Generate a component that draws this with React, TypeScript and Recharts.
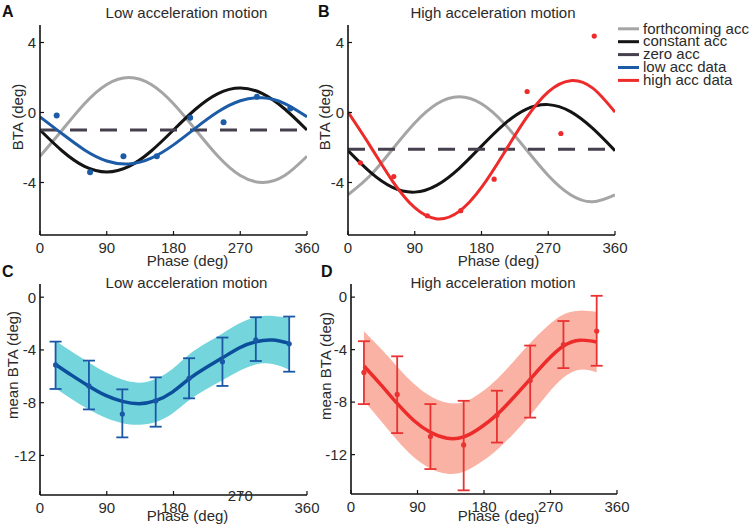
import React from 'react';
import { ComposedChart, Line, Area, XAxis, YAxis, ErrorBar } from 'recharts';

const FONT = '"Liberation Sans", Arial, sans-serif';

const phaseTicks = [0, 90, 180, 270, 360];
const curvePhase = [0, 30, 60, 90, 120, 150, 180, 210, 240, 270, 300, 330, 360];
const zeroPhase = [0, 360];

// panel A - low acceleration
const aForthcoming = [-2.5, -1.0, 0.5, 1.6, 2.0, 1.6, 0.5, -1.0, -2.5, -3.6, -4.0, -3.6, -2.5];
const aConstant = [-1.0, -2.2, -3.08, -3.4, -3.08, -2.2, -1.0, 0.2, 1.08, 1.4, 1.08, 0.2, -1.0];
const aLowFit = [-0.25, -1.22, -2.14, -2.77, -2.94, -2.61, -1.85, -0.88, 0.04, 0.67, 0.84, 0.51, -0.25];
const aZero = [-1, -1];
const aDataPhase = [22.5, 67.5, 112.5, 157.5, 202.5, 247.5, 292.5, 337.5];
const aData = [-0.17, -3.41, -2.5, -2.5, -0.3, -0.55, 0.9, 0.23];

// panel B - high acceleration
const bForthcoming = [-4.7, -3.6, -2.1, -0.6, 0.5, 0.9, 0.5, -0.6, -2.1, -3.6, -4.7, -5.1, -4.7];
const bConstant = [-2.18, -3.41, -4.28, -4.55, -4.15, -3.19, -1.92, -0.69, 0.18, 0.45, 0.05, -0.91, -2.18];
const bHighFit = [0.02, -1.92, -3.92, -5.44, -6.08, -5.65, -4.28, -2.34, -0.34, 1.18, 1.82, 1.39, 0.02];
const bZero = [-2.1, -2.1];
const bDataPhase = [16.7, 61.7, 107, 152, 197, 241.5, 287, 332];
const bData = [-2.87, -3.66, -5.9, -5.61, -3.81, 1.2, -1.2, 4.37];

// panel C - mean BTA, low acceleration
const cFitPhase = [21, 43.5, 66, 88.5, 111, 133.5, 156, 178.5, 201, 223.5, 246, 268.5, 291, 313.5, 336];
const cFit = [-5.1, -5.95, -6.75, -7.45, -7.9, -8.08, -7.85, -7.2, -6.2, -5.35, -4.6, -3.85, -3.38, -3.25, -3.5];
const cBandHigh = [-3.3, -4.15, -4.95, -5.7, -6.25, -6.48, -6.2, -5.45, -4.35, -3.5, -2.75, -2.0, -1.53, -1.42, -1.55];
const cBandLow = [-6.9, -7.75, -8.52, -9.15, -9.55, -9.68, -9.47, -8.82, -7.82, -7.0, -6.3, -5.6, -5.1, -5.07, -5.5];
const cPointPhase = [21, 66, 111, 156, 201, 246, 291, 336];
const cMean = [-5.14, -6.73, -8.86, -7.87, -6.15, -4.89, -3.24, -3.54];
const cTop = [-3.37, -4.81, -6.99, -6.08, -4.63, -3.06, -1.52, -1.47];
const cBottom = [-6.96, -8.51, -10.63, -9.82, -7.67, -6.73, -4.84, -5.65];

// panel D - mean BTA, high acceleration
const dFitPhase = [17.5, 40, 62.5, 85, 107.5, 130, 152.5, 175, 197.5, 220, 242.5, 265, 287.5, 310, 332.5];
const dFit = [-5.25, -6.65, -8.1, -9.4, -10.3, -10.75, -10.65, -9.95, -8.95, -7.65, -6.25, -4.85, -3.72, -3.28, -3.42];
const dBandHigh = [-2.6, -3.9, -5.3, -6.6, -7.55, -8.05, -8.0, -7.3, -6.25, -4.9, -3.5, -2.25, -1.32, -1.03, -1.12];
const dBandLow = [-7.9, -9.4, -10.9, -12.2, -13.05, -13.45, -13.3, -12.6, -11.65, -10.4, -9.0, -7.45, -6.12, -5.53, -5.72];
const dPointPhase = [17.5, 62.5, 107.5, 152.5, 197.5, 242.5, 287.5, 332.5];
const dMean = [-5.74, -7.41, -10.62, -11.26, -9.0, -6.36, -3.62, -2.59];
const dTop = [-3.36, -4.51, -8.15, -7.9, -7.13, -3.69, -1.82, 0.1];
const dBottom = [-8.15, -10.36, -13.1, -14.72, -11.08, -9.18, -5.41, -5.23];

const legendItems = [
  { name: 'forthcoming acc', color: '#a5a5a5' },
  { name: 'constant acc', color: '#141414' },
  { name: 'zero acc', color: '#463f4e' },
  { name: 'low acc data', color: '#1c5ca6' },
  { name: 'high acc data', color: '#ee2b2b' },
];

const axisLine = { stroke: '#111', strokeWidth: 1.6 };
const tickLine = { stroke: '#111', strokeWidth: 1.2 };
const tickFont = { fontSize: 15, fill: '#2b2b2b' };

const xy = (xs: number[], ys: number[]) => xs.map((x, i) => ({ x, y: ys[i] }));

// panel C has its "270" label lifted above the x label, as in the figure
const liftedTick = (props: any) => {
  const { x, y, payload } = props;
  const lift = payload.value === 270 ? -12 : 0;
  return (
    <text x={x} y={y + lift} dy="0.71em" textAnchor="middle" fontSize={15} fill="#2b2b2b">
      {payload.value}
    </text>
  );
};

function TopPanel({ left, forth, cons, zero, fit, fitColor, dx, dy, dotR }: any) {
  const rows = curvePhase.map((x, i) => ({ x, forth: forth[i], cons: cons[i], fit: fit[i] }));
  return (
    <div style={{ position: 'absolute', left, top: 0 }}>
      <ComposedChart width={376} height={270} data={rows} margin={{ top: 25, right: 69, bottom: 0, left: 0 }}>
        <XAxis type="number" dataKey="x" domain={[0, 360]} ticks={phaseTicks} interval={0} height={35}
          tickSize={-4} tickMargin={11} tick={tickFont} axisLine={axisLine} tickLine={tickLine} allowDataOverflow />
        <YAxis type="number" domain={[-7, 5]} ticks={[-4, 0, 4]} interval={0} width={40}
          tickSize={-4} tickMargin={8} tick={tickFont} axisLine={axisLine} tickLine={tickLine} allowDataOverflow />
        <Line dataKey="forth" type="natural" stroke="#a5a5a5" strokeWidth={3} dot={false} isAnimationActive={false} />
        <Line dataKey="cons" type="natural" stroke="#141414" strokeWidth={3} dot={false} isAnimationActive={false} />
        <Line data={xy(zeroPhase, zero)} dataKey="y" stroke="#463f4e" strokeWidth={3} strokeDasharray="17 13"
          dot={false} isAnimationActive={false} />
        <Line dataKey="fit" type="natural" stroke={fitColor} strokeWidth={3} dot={false} isAnimationActive={false} />
        <Line data={xy(dx, dy)} dataKey="y" stroke="none" strokeWidth={0}
          dot={{ r: dotR, fill: fitColor, stroke: 'none' }} isAnimationActive={false} />
      </ComposedChart>
    </div>
  );
}

function BottomPanel({ left, plotRight, phase, fit, lo, hi, px, mean, top, bottom, bandColor, lineColor, barColor, xHeight, xTick }: any) {
  const rows = phase.map((x: number, i: number) => ({ x, fit: fit[i], band: [lo[i], hi[i]] }));
  const pts = px.map((x: number, i: number) => ({ x, y: mean[i], err: [mean[i] - bottom[i], top[i] - mean[i]] }));
  return (
    <div style={{ position: 'absolute', left, top: 270 }}>
      <ComposedChart width={376} height={257} data={rows} margin={{ top: 14, right: plotRight, bottom: 0, left: 0 }}>
        <XAxis type="number" dataKey="x" domain={[0, 360]} ticks={phaseTicks} interval={0} height={xHeight}
          tickSize={-4} tickMargin={11} tick={xTick} axisLine={axisLine} tickLine={tickLine} allowDataOverflow />
        <YAxis type="number" domain={[-15, 1]} ticks={[-12, -8, -4, 0]} interval={0} width={40}
          tickSize={-4} tickMargin={8} tick={tickFont} axisLine={axisLine} tickLine={tickLine} allowDataOverflow />
        <Area dataKey="band" type="natural" stroke="none" fill={bandColor} fillOpacity={1} isAnimationActive={false} />
        <Line dataKey="fit" type="natural" stroke={lineColor} strokeWidth={3.5} dot={false} isAnimationActive={false} />
        <Line data={pts} dataKey="y" stroke="none" strokeWidth={0}
          dot={{ r: 2.6, fill: barColor, stroke: 'none' }} isAnimationActive={false}>
          <ErrorBar dataKey="err" direction="y" width={6} stroke={barColor} strokeWidth={1.8} />
        </Line>
      </ComposedChart>
    </div>
  );
}

export default function App() {
  return (
    <div style={{ position: 'absolute', left: 0, top: 0, width: 752, height: 527, background: '#fff', fontFamily: FONT }}>
      <TopPanel left={0} forth={aForthcoming} cons={aConstant} zero={aZero} fit={aLowFit} fitColor="#1c5ca6"
        dx={aDataPhase} dy={aData} dotR={3} />
      <TopPanel left={308} forth={bForthcoming} cons={bConstant} zero={bZero} fit={bHighFit} fitColor="#ee2b2b"
        dx={bDataPhase} dy={bData} dotR={2.6} />
      <BottomPanel left={0} plotRight={69} phase={cFitPhase} fit={cFit} lo={cBandLow} hi={cBandHigh}
        px={cPointPhase} mean={cMean} top={cTop} bottom={cBottom}
        bandColor="#74d5dc" lineColor="#0b4f9c" barColor="#1a58a6" xHeight={32} xTick={liftedTick} />
      <BottomPanel left={311} plotRight={70} phase={dFitPhase} fit={dFit} lo={dBandLow} hi={dBandHigh}
        px={dPointPhase} mean={dMean} top={dTop} bottom={dBottom}
        bandColor="#f9b2a3" lineColor="#ee2b2b" barColor="#ea3232" xHeight={33} xTick={tickFont} />
      <svg width={752} height={527} style={{ position: 'absolute', left: 0, top: 0, pointerEvents: 'none' }}>
        <g fontFamily={FONT} fontSize={16} fontWeight="bold" fill="#111">
          <text x={2} y={17}>A</text>
          <text x={318} y={17}>B</text>
          <text x={2} y={277}>C</text>
          <text x={321} y={277}>D</text>
        </g>
        <g fontFamily={FONT} fontSize={15} fill="#2b2b2b" textAnchor="middle">
          <text x={186.5} y={18}>Low acceleration motion</text>
          <text x={493} y={18}>High acceleration motion</text>
          <text x={186.5} y={288}>Low acceleration motion</text>
          <text x={493} y={288}>High acceleration motion</text>
          <text x={187.5} y={265.5}>Phase (deg)</text>
          <text x={498.5} y={265.5}>Phase (deg)</text>
          <text x={187.5} y={521}>Phase (deg)</text>
          <text x={498.5} y={521}>Phase (deg)</text>
          <text transform="translate(22.5,117) rotate(-90)">BTA (deg)</text>
          <text transform="translate(330,117) rotate(-90)">BTA (deg)</text>
          <text transform="translate(18,365) rotate(-90)">mean BTA (deg)</text>
          <text transform="translate(331,366) rotate(-90)">mean BTA (deg)</text>
        </g>
        <g fontFamily={FONT} fontSize={15} fill="#2b2b2b">
          {legendItems.map((it, i) => (
            <g key={it.name}>
              <line x1={618} x2={639} y1={28.8 + 12.9 * i} y2={28.8 + 12.9 * i} stroke={it.color} strokeWidth={3} />
              <text x={643} y={33.5 + 12.9 * i}>{it.name}</text>
            </g>
          ))}
        </g>
      </svg>
    </div>
  );
}
